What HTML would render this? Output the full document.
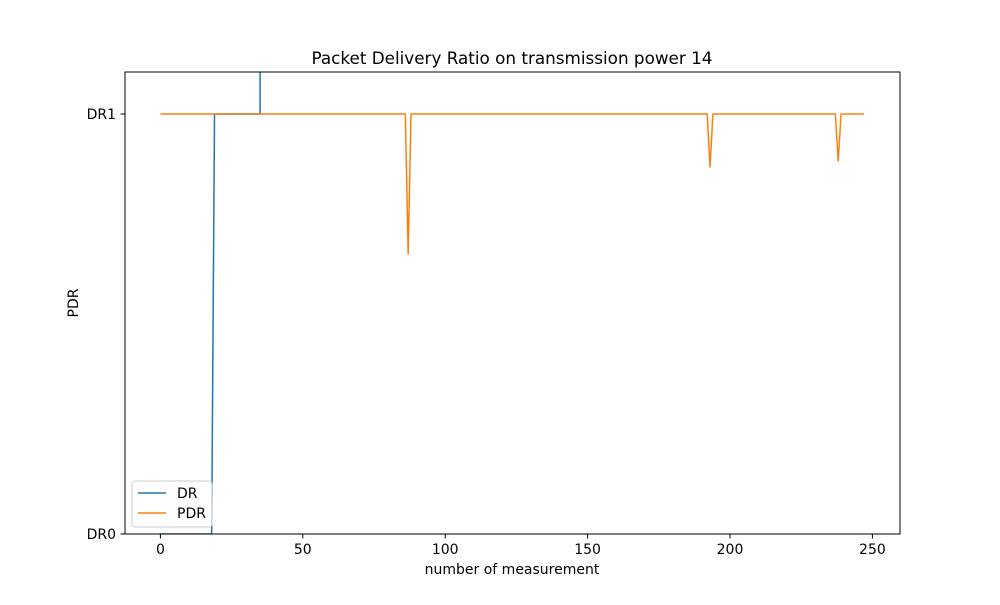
<!DOCTYPE html>
<html><head><meta charset="utf-8">
<style>
body{margin:0;background:#fff;font-family:"Liberation Sans","DejaVu Sans",sans-serif;}
svg text{font-family:"DejaVu Sans","Liberation Sans",sans-serif;}
</style></head>
<body>
<svg id="chart" width="1000" height="600" xmlns="http://www.w3.org/2000/svg">
<defs><clipPath id="clip"><rect x="125" y="72" width="775" height="462"/></clipPath></defs>
<rect width="1000" height="600" fill="#fff"/>
<text x="512" y="64" font-size="16.8" text-anchor="middle">Packet Delivery Ratio on transmission power 14</text>
<g id="ticks"></g>
<g id="series" clip-path="url(#clip)"></g>
<rect x="125" y="72" width="775" height="462" fill="none" stroke="#000" stroke-width="1"/>
<text x="512" y="574" font-size="14" text-anchor="middle">number of measurement</text>
<text x="78" y="303" font-size="14" text-anchor="middle" transform="rotate(-90 78 303)">PDR</text>
<g>
<rect x="132" y="481" width="80" height="46" rx="3" fill="#fff" fill-opacity="0.8" stroke="#ccc"/>
<line x1="138" y1="493" x2="166" y2="493" stroke="#1f77b4" stroke-width="1.5"/>
<text x="177" y="498" font-size="14">DR</text>
<line x1="138" y1="513" x2="166" y2="513" stroke="#ff7f0e" stroke-width="1.5"/>
<text x="177" y="518" font-size="14">PDR</text>
</g>
</svg>
<script>
const xTicks=[0,50,100,150,200,250];
const yTickValues=[0,1];
const yTickLabels=["DR0","DR1"];
const drX=[0,18,19,35,35,247];
const drY=[0,0,1,1,5,5];
const pdrX=[0,86,87,88,192,193,194,237,238,239,247];
const pdrY=[1,1,0.667,1,1,0.874,1,1,0.888,1,1];

const X0=160.4, XS=2.848, Y0=534, YS=420;
const xs=v=>X0+v*XS, ys=v=>Y0-v*YS;
const NS="http://www.w3.org/2000/svg";
const tg=document.getElementById('ticks'), sg=document.getElementById('series');
function mk(t,a,p){const e=document.createElementNS(NS,t);for(const k in a)e.setAttribute(k,a[k]);p.appendChild(e);return e;}
xTicks.forEach(v=>{
  const l=mk('line',{x1:xs(v),x2:xs(v),y1:534,y2:538.5,stroke:'#000'},tg);
  
  
  const t=mk('text',{x:xs(v),y:554,'font-size':14,'text-anchor':'middle'},tg);
  
  
  t.textContent=v;
});
yTickValues.forEach((v,i)=>{
  const l=mk('line',{x1:120.5,x2:125,y1:ys(v),y2:ys(v),stroke:'#000'},tg);
  
  
  const t=mk('text',{x:116,y:ys(v)+5,'font-size':14,'text-anchor':'end'},tg);
  
  
  t.textContent=yTickLabels[i];
});
function line(X,Y,c,name){
  const p=mk('polyline',{points:X.map((x,i)=>xs(x)+','+ys(Y[i])).join(' '),fill:'none',stroke:c,'stroke-width':1.5,'stroke-linejoin':'round'},sg);
  
  
}
line(drX,drY,'#1f77b4','dr-line');
line(pdrX,pdrY,'#ff7f0e','pdr-line');
</script>
</body></html>
